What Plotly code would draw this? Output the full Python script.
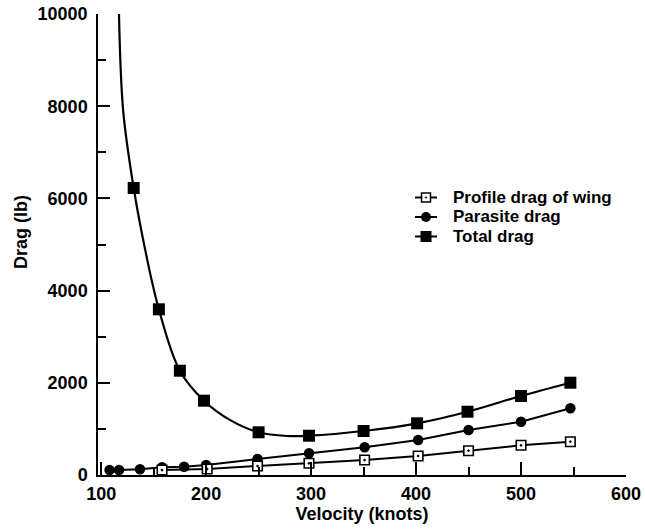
import plotly.graph_objects as go

# ---------------- data ----------------
profile_v = [158, 201, 249, 298, 351, 402, 450, 500, 547]
profile_d = [108, 130, 195, 254, 325, 412, 527, 644, 722]

parasite_v = [108, 117, 137, 158, 179, 200, 249, 298, 351, 402, 450, 500, 547]
parasite_d = [108, 108, 126, 167, 180, 217, 347, 471, 601, 759, 976, 1156, 1447]

total_v = [131, 155, 175, 198, 250, 298, 350, 401, 449, 500, 547]
total_d = [6226, 3594, 2262, 1612, 926, 852, 954, 1121, 1373, 1714, 2002]

# points (line only)
total_curve_v = [117, 121, 131, 142, 155, 175, 198, 223, 250, 277, 298, 350, 401, 449, 500, 547]
total_curve_d = [10000, 7900, 6226, 4880, 3594, 2262, 1612, 1190, 926, 846, 852, 954, 1121, 1373, 1714, 2002]

series_names = ["Profile drag of wing", "Parasite drag", "Total drag"]
x_title = "Velocity (knots)"
y_title = "Drag (lb)"

# ---------------- layout constants ----------------
W, H = 645, 531
M_L, M_R, M_T, M_B = 98, 19, 14, 56
PLOT_W = W - M_L - M_R
PLOT_H = H - M_T - M_B
FAMILY = "Liberation Sans, Arial, sans-serif"
FONT = dict(family=FAMILY, size=18, color="black", weight="bold")
LEG_FONT = dict(family=FAMILY, size=17, color="black", weight="bold")

fig = go.Figure()

fig.add_trace(go.Scatter(
    x=parasite_v, y=parasite_d, mode="lines+markers", name=series_names[1],
    line=dict(color="black", width=2),
    marker=dict(symbol="circle", size=10.5, color="black"),
    showlegend=False, cliponaxis=True))

fig.add_trace(go.Scatter(
    x=profile_v, y=profile_d, mode="lines+markers", name=series_names[0],
    line=dict(color="black", width=2),
    marker=dict(symbol="square-dot", size=9.5, color="white", line=dict(color="black", width=1.6)),
    showlegend=False, cliponaxis=True))

fig.add_trace(go.Scatter(
    x=total_curve_v, y=total_curve_d, mode="lines", name=series_names[2],
    line=dict(color="black", width=2.2, shape="spline", smoothing=1.0),
    showlegend=False, hoverinfo="skip"))

fig.add_trace(go.Scatter(
    x=total_v, y=total_d, mode="markers", name=series_names[2],
    marker=dict(symbol="square", size=12, color="black"),
    showlegend=False, cliponaxis=True))

# ---------------- manual legend (tight row spacing as in reference) ----------------
LEG_KEY_X = 426
LEG_TEXT_X = 451
LEG_ROW_Y = [197.5, 217, 236.5]


def px_x(px):
    return (px - M_L) / PLOT_W


def px_y(py):
    return (H - M_B - py) / PLOT_H


shapes = []
annotations = []
for i, name in enumerate(series_names):
    kx, ky = px_x(LEG_KEY_X), px_y(LEG_ROW_Y[i])
    common = dict(xref="paper", yref="paper", xsizemode="pixel", ysizemode="pixel",
                  xanchor=kx, yanchor=ky)
    shapes.append(dict(type="line", x0=-11, x1=11, y0=0, y1=0,
                       line=dict(color="black", width=2), **common))
    if i == 0:
        shapes.append(dict(type="rect", x0=-4.5, x1=4.5, y0=-4.5, y1=4.5,
                           fillcolor="white", line=dict(color="black", width=1.5), **common))
        shapes.append(dict(type="circle", x0=-0.8, x1=0.8, y0=-0.8, y1=0.8,
                           fillcolor="black", line=dict(color="black", width=0.5), **common))
    elif i == 1:
        shapes.append(dict(type="circle", x0=-5, x1=5, y0=-5, y1=5,
                           fillcolor="black", line=dict(color="black", width=0), **common))
    else:
        shapes.append(dict(type="rect", x0=-5.5, x1=5.5, y0=-5.5, y1=5.5,
                           fillcolor="black", line=dict(color="black", width=0), **common))
    annotations.append(dict(text=name, x=px_x(LEG_TEXT_X), y=ky, xref="paper", yref="paper",
                            xanchor="left", yanchor="middle", showarrow=False, font=LEG_FONT))

# y-axis title placed as in the reference (slightly above the plot centre)
annotations.append(dict(text=y_title, textangle=-90, x=px_x(21), y=px_y(232),
                        xref="paper", yref="paper", xanchor="center", yanchor="middle",
                        showarrow=False, font=FONT))

fig.update_layout(
    width=W, height=H,
    margin=dict(l=M_L, r=M_R, t=M_T, b=M_B, pad=0),
    paper_bgcolor="white", plot_bgcolor="white",
    font=FONT,
    shapes=shapes, annotations=annotations,
    showlegend=False,
)

fig.update_xaxes(
    range=[97, 600], tick0=100, dtick=100, tickformat="d",
    ticks="inside", ticklen=13, tickwidth=1.5, tickcolor="black",
    minor=dict(ticks="inside", ticklen=8, tickwidth=1.5, tickcolor="black", dtick=50, tick0=50, showgrid=False),
    showline=True, linecolor="black", linewidth=1.5,
    showgrid=False, zeroline=False, automargin=False,
    tickfont=FONT, ticklabelstandoff=2,
    title=dict(text=x_title, font=FONT, standoff=4),
)
fig.update_yaxes(
    range=[0, 10000], tick0=0, dtick=2000, tickformat="d",
    ticks="inside", ticklen=12, tickwidth=1.5, tickcolor="black",
    minor=dict(ticks="inside", ticklen=8, tickwidth=1.5, tickcolor="black", dtick=1000, tick0=0, showgrid=False),
    showline=True, linecolor="black", linewidth=1.5,
    showgrid=False, zeroline=False, automargin=False,
    tickfont=FONT, ticklabelstandoff=5,
)

fig.write_html("out.html")
